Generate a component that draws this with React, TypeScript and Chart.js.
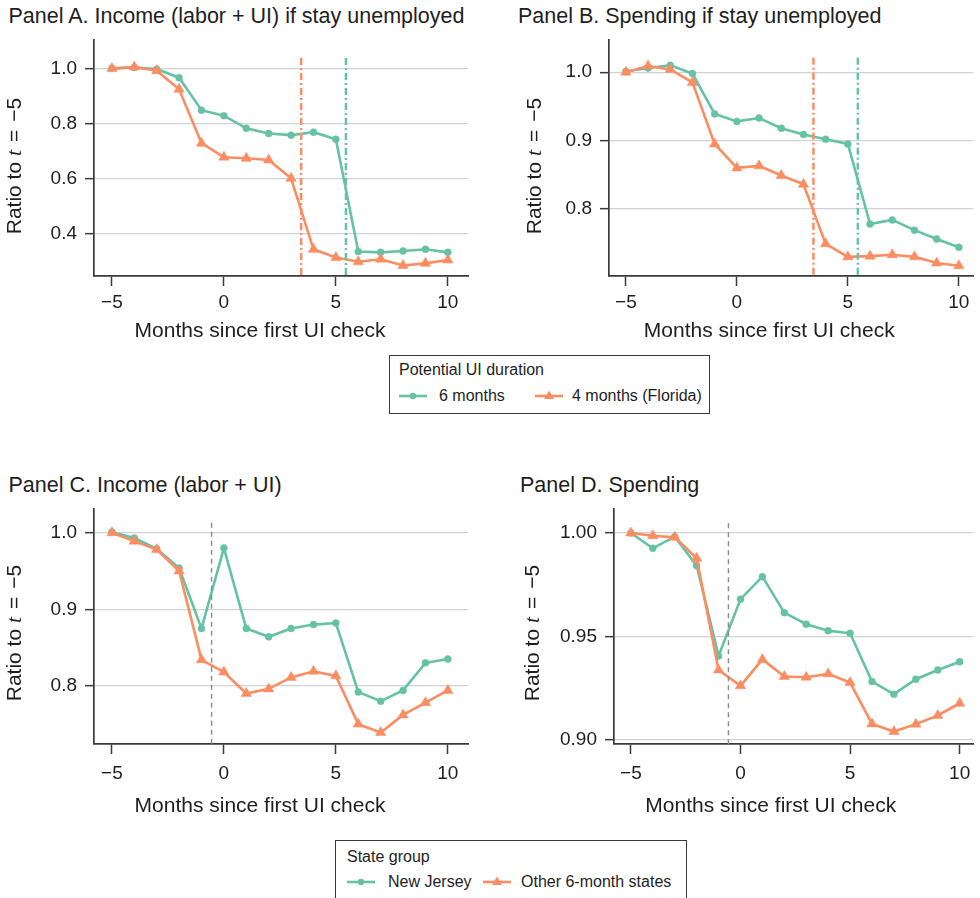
import React, { useEffect, useRef } from "react";
import { Chart, registerables } from "chart.js";
Chart.register(...registerables);

const FONT = '"Liberation Sans", Arial, Helvetica, sans-serif';
const GREEN = "#66c2a5";
const ORANGE = "#fc8d62";
const TEXT = "#1e1e1e";
const AXIS = "#3a3a3a";

const MONTHS = [-5, -4, -3, -2, -1, 0, 1, 2, 3, 4, 5, 6, 7, 8, 9, 10];
const X_TICKS = [-5, 0, 5, 10];
const X_TITLE = "Months since first UI check";

// Panel A: income if stay unemployed
const A_SIX = [1.001, 1.004, 0.998, 0.967, 0.849, 0.829, 0.783, 0.764, 0.758, 0.769, 0.743, 0.335, 0.332, 0.337, 0.343, 0.332];
const A_FOUR = [1.0, 1.006, 0.992, 0.925, 0.729, 0.678, 0.674, 0.668, 0.601, 0.343, 0.313, 0.298, 0.307, 0.284, 0.292, 0.304];
const A_TICKS = [0.4, 0.6, 0.8, 1.0];

// Panel B: spending if stay unemployed
const B_SIX = [1.001, 1.006, 1.01, 0.998, 0.939, 0.928, 0.933, 0.918, 0.909, 0.902, 0.895, 0.778, 0.784, 0.769, 0.756, 0.744];
const B_FOUR = [1.0, 1.009, 1.004, 0.985, 0.895, 0.86, 0.863, 0.849, 0.836, 0.749, 0.73, 0.731, 0.733, 0.73, 0.721, 0.717];
const B_TICKS = [0.8, 0.9, 1.0];

// Panel C: income
const C_NJ = [1.001, 0.993, 0.979, 0.954, 0.875, 0.98, 0.875, 0.864, 0.875, 0.88, 0.882, 0.792, 0.78, 0.794, 0.83, 0.835];
const C_OTHER = [1.0, 0.989, 0.978, 0.95, 0.834, 0.818, 0.79, 0.796, 0.811, 0.819, 0.813, 0.75, 0.739, 0.762, 0.778, 0.794];
const C_TICKS = [0.8, 0.9, 1.0];

// Panel D: spending
const D_NJ = [1.0, 0.9926, 0.9982, 0.9842, 0.9406, 0.968, 0.9789, 0.9615, 0.9559, 0.9528, 0.9515, 0.9282, 0.9221, 0.9293, 0.9338, 0.9378];
const D_OTHER = [1.0, 0.9987, 0.9979, 0.9878, 0.9338, 0.9261, 0.9389, 0.9306, 0.9303, 0.9319, 0.9277, 0.9077, 0.904, 0.9076, 0.9118, 0.9177];
const D_TICKS = [0.9, 0.95, 1.0];

// Exhaustion of UI (months) and timing marker
const EXHAUST_FOUR = 3.45;
const EXHAUST_SIX = 5.45;
const FIRST_CHECK_MARK = -0.55;

type VLine = { x: number; top: number; color: string; dash: number[]; width: number };

type PanelProps = {
  left: number; top: number; width: number; height: number;
  padTop: number; padRight: number; yWidth: number; xHeight: number;
  xMin: number; xMax: number; yMin: number; yMax: number;
  yTicks: number[]; yDec: number;
  green: number[]; orange: number[];
  greenName: string; orangeName: string;
  vlines: VLine[];
  yTitleX: number; yTitleY: number;
  xTickPad: number; xTitleY: number; xTitleShift: number;
};

function Panel(p: PanelProps) {
  const ref = useRef<HTMLCanvasElement>(null);
  useEffect(() => {
    const titlesPlugin = {
      id: "axisTitles",
      afterDraw(chart: any) {
        const ctx = chart.ctx;
        ctx.save();
        ctx.fillStyle = TEXT;
        ctx.textBaseline = "middle";
        // x-axis title
        ctx.textAlign = "center";
        ctx.font = `21px ${FONT}`;
        const ca = chart.chartArea;
        ctx.fillText(X_TITLE, (ca.left + ca.right) / 2 + p.xTitleShift, p.xTitleY);
        // y-axis title with italic t
        ctx.textAlign = "left";
        const segs = [
          { t: "Ratio to ", f: `21px ${FONT}`, gap: 0 },
          { t: "t", f: `italic 22px "Liberation Serif", serif`, gap: 0 },
          { t: "=", f: `21px ${FONT}`, gap: 8 },
          { t: "\u22125", f: `21px ${FONT}`, gap: 8 },
        ];
        let total = 0;
        const widths = segs.map((s) => {
          ctx.font = s.f;
          const w = ctx.measureText(s.t).width;
          total += w + s.gap;
          return w;
        });
        ctx.translate(p.yTitleX, p.yTitleY);
        ctx.rotate(-Math.PI / 2);
        let x = -total / 2;
        segs.forEach((s, i) => {
          x += s.gap;
          ctx.font = s.f;
          ctx.fillText(s.t, x, 0);
          x += widths[i];
        });
        ctx.restore();
      },
    };
    const vlinePlugin = {
      id: "vlines",
      afterDatasetsDraw(chart: any) {
        const ctx = chart.ctx;
        const xs = chart.scales.x;
        const ys = chart.scales.y;
        ctx.save();
        p.vlines.forEach((v) => {
          const px = xs.getPixelForValue(v.x);
          ctx.beginPath();
          ctx.strokeStyle = v.color;
          ctx.lineWidth = v.width;
          ctx.setLineDash(v.dash);
          ctx.moveTo(px, ys.getPixelForValue(v.top));
          ctx.lineTo(px, chart.chartArea.bottom);
          ctx.stroke();
        });
        ctx.restore();
      },
    };
    const chart = new Chart(ref.current as HTMLCanvasElement, {
      type: "line",
      data: {
        datasets: [
          {
            label: p.greenName,
            data: MONTHS.map((m, i) => ({ x: m, y: p.green[i] })),
            borderColor: GREEN,
            backgroundColor: GREEN,
            pointBackgroundColor: GREEN,
            pointBorderColor: GREEN,
            pointStyle: "circle",
            pointRadius: 3.5,
            pointBorderWidth: 0.5,
            borderWidth: 2.6,
            tension: 0,
            order: 2,
          },
          {
            label: p.orangeName,
            data: MONTHS.map((m, i) => ({ x: m, y: p.orange[i] })),
            borderColor: ORANGE,
            backgroundColor: ORANGE,
            pointBackgroundColor: ORANGE,
            pointBorderColor: ORANGE,
            pointStyle: "triangle",
            pointRadius: 6,
            pointBorderWidth: 0.5,
            borderWidth: 2.6,
            tension: 0,
            order: 1,
          },
        ],
      },
      options: {
        responsive: false,
        maintainAspectRatio: false,
        animation: false,
        layout: { padding: { left: 0, top: p.padTop, right: p.padRight, bottom: 0 } },
        plugins: { legend: { display: false }, tooltip: { enabled: false }, title: { display: false } },
        scales: {
          x: {
            type: "linear",
            min: p.xMin,
            max: p.xMax,
            afterBuildTicks: (s: any) => {
              s.ticks = X_TICKS.map((v) => ({ value: v }));
            },
            afterFit: (s: any) => {
              s.height = p.xHeight;
            },
            ticks: {
              callback: (v: any) => (Number(v) < 0 ? "\u2212" + Math.abs(Number(v)) : String(v)),
              font: { family: FONT, size: 19 },
              color: TEXT,
              padding: p.xTickPad,
              maxRotation: 0,
              autoSkip: false,
            },
            grid: { drawOnChartArea: false, drawTicks: true, tickLength: 10, tickColor: AXIS, tickWidth: 1.5 },
            border: { display: true, color: AXIS, width: 1.7 },
            title: { display: false },
          },
          y: {
            type: "linear",
            min: p.yMin,
            max: p.yMax,
            afterBuildTicks: (s: any) => {
              s.ticks = p.yTicks.map((v) => ({ value: v }));
            },
            afterFit: (s: any) => {
              s.width = p.yWidth;
            },
            ticks: {
              callback: (v: any) => Number(v).toFixed(p.yDec),
              font: { family: FONT, size: 19 },
              color: TEXT,
              padding: 8,
              autoSkip: false,
            },
            grid: { color: "#d2d2d2", lineWidth: 1.3, drawTicks: true, tickLength: 9, tickColor: AXIS, tickWidth: 1.5 },
            border: { display: true, color: AXIS, width: 1.7 },
          },
        },
      } as any,
      plugins: [vlinePlugin, titlesPlugin],
    });
    return () => chart.destroy();
  }, []);
  return (
    <canvas
      ref={ref}
      width={p.width}
      height={p.height}
      style={{ position: "absolute", left: p.left, top: p.top, width: p.width, height: p.height }}
    />
  );
}

function LegendIcon({ shape, color }: { shape: "circle" | "triangle"; color: string }) {
  return (
    <svg width={28} height={14} style={{ display: "block" }}>
      <line x1={0} y1={7} x2={28} y2={7} stroke={color} strokeWidth={2.6} />
      {shape === "circle" ? (
        <circle cx={14} cy={7} r={3.2} fill={color} />
      ) : (
        <polygon points="14,1.5 19,10 9,10" fill={color} />
      )}
    </svg>
  );
}

const titleStyle = (left: number, top: number): React.CSSProperties => ({
  position: "absolute",
  left,
  top,
  fontFamily: FONT,
  fontSize: 21.5,
  lineHeight: "24px",
  color: TEXT,
  whiteSpace: "nowrap",
});

const textStyle = (left: number, top: number): React.CSSProperties => ({
  position: "absolute",
  left,
  top,
  fontFamily: FONT,
  fontSize: 16,
  lineHeight: "20px",
  color: TEXT,
  whiteSpace: "nowrap",
});

export default function App() {
  const dashDot = [7, 3, 2, 3];
  const grayDash = [5, 4];
  return (
    <div style={{ position: "absolute", left: 0, top: 0, width: 980, height: 898, overflow: "hidden", background: "#fff" }}>
      <div style={titleStyle(8.5, 4)}>Panel A. Income (labor + UI) if stay unemployed</div>
      <div style={titleStyle(518, 4)}>Panel B. Spending if stay unemployed</div>
      <div style={titleStyle(8.5, 473)}>Panel C. Income (labor + UI)</div>
      <div style={titleStyle(520, 473)}>Panel D. Spending</div>

      <Panel
        left={0} top={0} width={490} height={345}
        padTop={40} padRight={22} yWidth={94} xHeight={69}
        xMin={-5.8} xMax={10.9} yMin={0.246} yMax={1.104}
        yTicks={A_TICKS} yDec={1}
        green={A_SIX} orange={A_FOUR}
        greenName="6 months" orangeName="4 months (Florida)"
        vlines={[
          { x: EXHAUST_FOUR, top: 1.039, color: ORANGE, dash: dashDot, width: 2.5 },
          { x: EXHAUST_SIX, top: 1.039, color: GREEN, dash: dashDot, width: 2.5 },
        ]}
        yTitleX={15} yTitleY={166}
        xTickPad={5} xTitleY={331.5} xTitleShift={-21}
      />
      <Panel
        left={490} top={0} width={490} height={345}
        padTop={40} padRight={2} yWidth={119} xHeight={69}
        xMin={-5.76} xMax={10.66} yMin={0.702} yMax={1.047}
        yTicks={B_TICKS} yDec={1}
        green={B_SIX} orange={B_FOUR}
        greenName="6 months" orangeName="4 months (Florida)"
        vlines={[
          { x: EXHAUST_FOUR, top: 1.021, color: ORANGE, dash: dashDot, width: 2.5 },
          { x: EXHAUST_SIX, top: 1.021, color: GREEN, dash: dashDot, width: 2.5 },
        ]}
        yTitleX={45} yTitleY={166}
        xTickPad={5} xTitleY={331.5} xTitleShift={-22}
      />
      <Panel
        left={0} top={470} width={490} height={355}
        padTop={39} padRight={22} yWidth={94} xHeight={81}
        xMin={-5.8} xMax={10.9} yMin={0.724} yMax={1.031}
        yTicks={C_TICKS} yDec={1}
        green={C_NJ} orange={C_OTHER}
        greenName="New Jersey" orangeName="Other 6-month states"
        vlines={[{ x: FIRST_CHECK_MARK, top: 1.013, color: "#8a8a8a", dash: grayDash, width: 1.4 }]}
        yTitleX={15} yTitleY={163}
        xTickPad={8} xTitleY={336.5} xTitleShift={-21}
      />
      <Panel
        left={490} top={470} width={490} height={355}
        padTop={39} padRight={2} yWidth={124} xHeight={81}
        xMin={-5.77} xMax={10.63} yMin={0.898} yMax={1.0116}
        yTicks={D_TICKS} yDec={2}
        green={D_NJ} orange={D_OTHER}
        greenName="New Jersey" orangeName="Other 6-month states"
        vlines={[{ x: FIRST_CHECK_MARK, top: 1.0047, color: "#8a8a8a", dash: grayDash, width: 1.4 }]}
        yTitleX={43} yTitleY={163}
        xTickPad={8} xTitleY={336.5} xTitleShift={-23}
      />

      {/* Legend top */}
      <div style={{ position: "absolute", left: 389, top: 355, width: 321, height: 59, boxSizing: "border-box", border: `1.5px solid ${AXIS}` }} />
      <div style={textStyle(399, 360)}>Potential UI duration</div>
      <div style={{ position: "absolute", left: 399, top: 389 }}><LegendIcon shape="circle" color={GREEN} /></div>
      <div style={textStyle(439, 386)}>6 months</div>
      <div style={{ position: "absolute", left: 535, top: 389 }}><LegendIcon shape="triangle" color={ORANGE} /></div>
      <div style={textStyle(572, 386)}>4 months (Florida)</div>

      {/* Legend bottom */}
      <div style={{ position: "absolute", left: 335, top: 840, width: 352, height: 80, boxSizing: "border-box", border: `1.5px solid ${AXIS}` }} />
      <div style={textStyle(347, 847)}>State group</div>
      <div style={{ position: "absolute", left: 347, top: 875 }}><LegendIcon shape="circle" color={GREEN} /></div>
      <div style={textStyle(388, 872)}>New Jersey</div>
      <div style={{ position: "absolute", left: 483, top: 875 }}><LegendIcon shape="triangle" color={ORANGE} /></div>
      <div style={textStyle(521, 872)}>Other 6-month states</div>
    </div>
  );
}
